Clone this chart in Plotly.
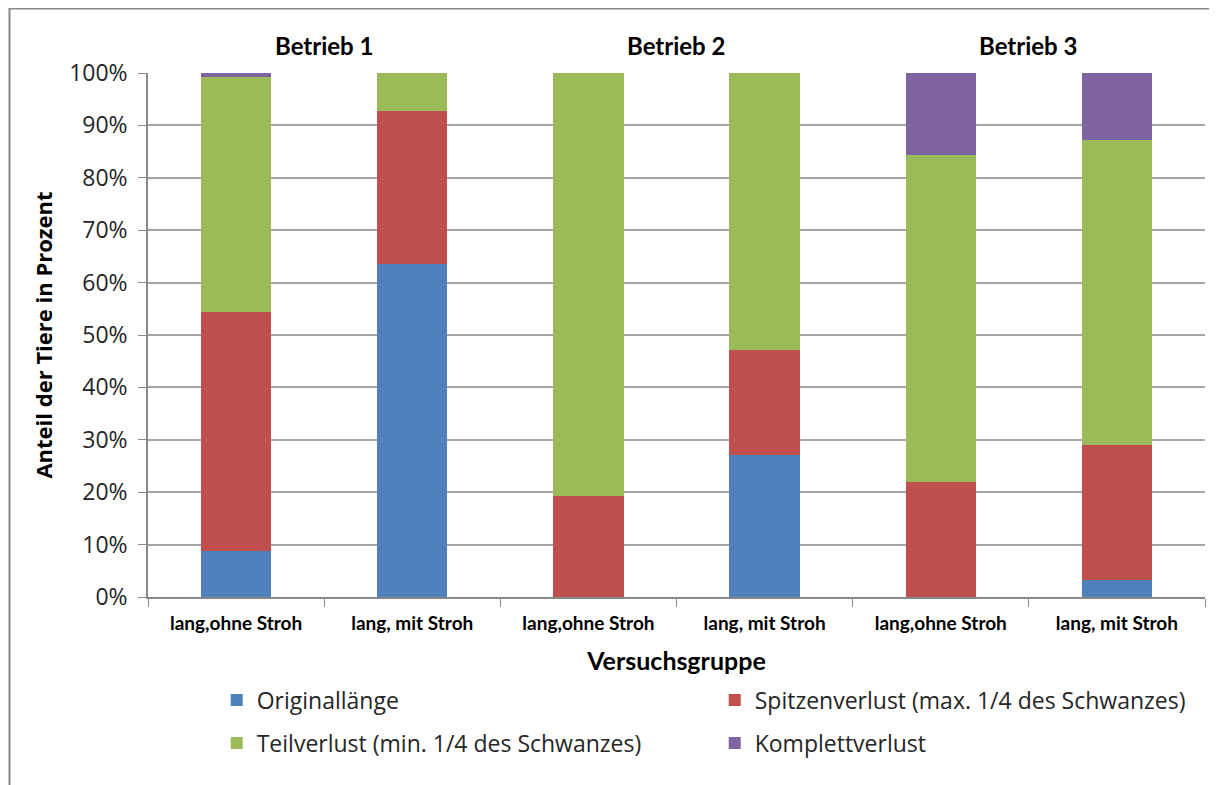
import plotly.graph_objects as go

categories = ["lang,ohne Stroh", "lang, mit Stroh", "lang,ohne Stroh", "lang, mit Stroh", "lang,ohne Stroh", "lang, mit Stroh"]
groups = ["Betrieb 1", "Betrieb 2", "Betrieb 3"]
series_names = ["Originallänge", "Spitzenverlust (max. 1/4 des Schwanzes)", "Teilverlust (min. 1/4 des Schwanzes)", "Komplettverlust"]
originallaenge = [8.8, 63.5, 0.0, 27.1, 0.0, 3.2]
spitzenverlust = [45.6, 29.2, 19.3, 20.0, 21.9, 25.8]
teilverlust = [44.8, 7.3, 80.7, 52.9, 62.5, 58.2]
komplettverlust = [0.8, 0.0, 0.0, 0.0, 15.6, 12.8]
y_ticks = [0, 10, 20, 30, 40, 50, 60, 70, 80, 90, 100]

colors = ["#4F81BD", "#C0504D", "#9BBB59", "#8064A2"]
legends = ["legend", "legend", "legend2", "legend2"]
CAL = "Lato, sans-serif"
SEG = "Open Sans, sans-serif"

# page body adds an 8px offset, so the figure is laid out 8px smaller
W, H = 1209, 777
L, T, R, B = 140, 65, 12, 188
PW, PH = W - L - R, H - T - B

x_pos = list(range(len(categories)))
fig = go.Figure()
for name, vals, col, lg in zip(series_names, [originallaenge, spitzenverlust, teilverlust, komplettverlust], colors, legends):
    fig.add_trace(go.Bar(x=x_pos, y=vals, name=name, legend=lg,
                         marker=dict(color=col, line=dict(width=0)), width=0.4))

leg_common = dict(orientation="h", x=0.065, xanchor="left", yanchor="middle",
                  entrywidth=453, entrywidthmode="pixels", bgcolor="rgba(0,0,0,0)",
                  font=dict(size=23, family=SEG, color="#262626"), traceorder="normal")

fig.update_layout(
    barmode="stack",
    width=W, height=H,
    margin=dict(l=L, r=R, t=T, b=B, autoexpand=False),
    paper_bgcolor="white", plot_bgcolor="white",
    font=dict(family=SEG, color="#000000", size=20),
    showlegend=True,
    legend=dict(y=-(692 - 589) / PH, **leg_common),
    legend2=dict(y=-(735 - 589) / PH, **leg_common),
    xaxis=dict(range=[-0.5, 5.5], tickvals=x_pos, ticktext=[f"<b>{c}</b>" for c in categories], ticks="",
               showline=True, linecolor="#898989", linewidth=1.5, showgrid=False, zeroline=False,
               tickfont=dict(size=19, family=CAL, color="#000000"), ticklabelstandoff=8,
               minor=dict(tick0=-0.5, dtick=1, ticks="outside", ticklen=8, tickcolor="#898989", showgrid=False),
               title=dict(text="<b>Versuchsgruppe</b>", font=dict(size=25, family=CAL), standoff=20)),
    yaxis=dict(range=[0, 100], tickvals=y_ticks, ticktext=[f"{v}%" for v in y_ticks],
               ticks="outside", ticklen=8, tickcolor="#898989",
               showline=True, linecolor="#898989", linewidth=1.5,
               showgrid=True, gridcolor="#A6A6A6", gridwidth=1.5, zeroline=False,
               tickfont=dict(size=23, family=SEG, color="#262626"), ticklabelstandoff=6,
               title=dict(text="<b>Anteil der Tiere in Prozent</b>", font=dict(size=22, family=SEG), standoff=10)),
)

for i, g in enumerate(groups):
    fig.add_annotation(x=2 * i + 0.5, y=1.0, xref="x", yref="paper", yanchor="middle", yshift=28,
                       text=f"<b>{g}</b>", showarrow=False, font=dict(size=24, family=CAL))

# chart-area frame (top and left edges visible in the reference)
fig.add_shape(type="line", xref="paper", yref="paper",
              x0=(1 - L) / PW, x1=(W - L) / PW, y0=(PH + T - 0.75) / PH, y1=(PH + T - 0.75) / PH,
              line=dict(color="#888888", width=1.5))
fig.add_shape(type="line", xref="paper", yref="paper",
              x0=(1.5 - L) / PW, x1=(1.5 - L) / PW, y0=(PH + T) / PH, y1=-(B + 5) / PH,
              line=dict(color="#888888", width=2))

fig.write_html("out.html")
